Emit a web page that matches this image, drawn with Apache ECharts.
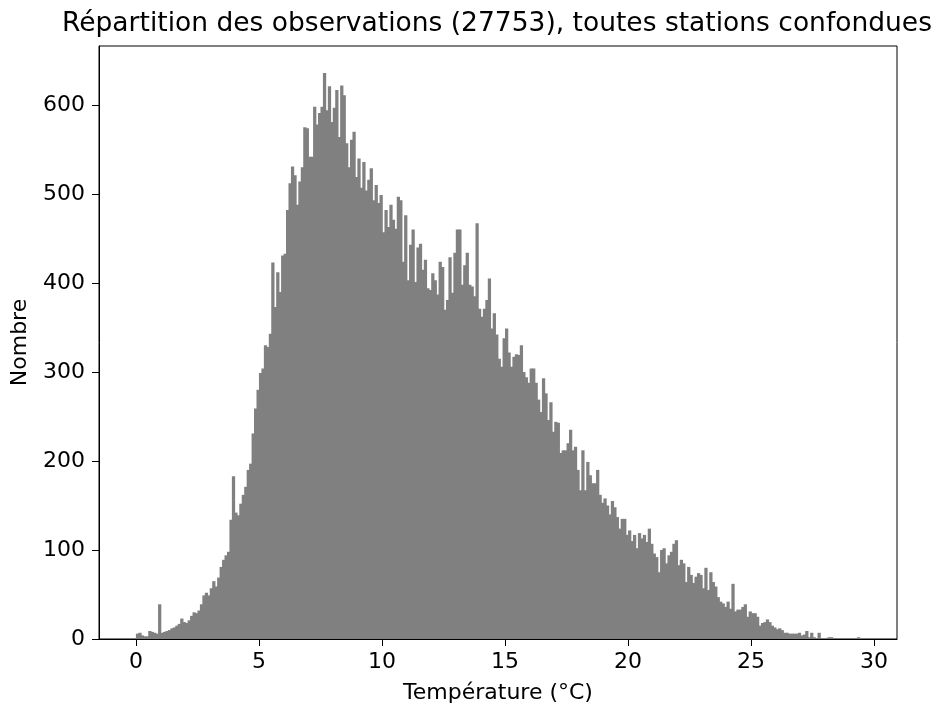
<!DOCTYPE html>
<html>
<head>
<meta charset="utf-8">
<script src="https://cdn.jsdelivr.net/npm/echarts@6/dist/echarts.min.js"></script>
<style>
html,body{margin:0;padding:0;background:#fff;}
#chart{width:936px;height:711px;}
</style>
</head>
<body>
<div id="chart"></div>
<script>
// ---- Data ----
const titleText = "Répartition des observations (27753), toutes stations confondues";
const xAxisName = "Température (°C)";
const yAxisName = "Nombre";
const binStart = 0.0;
const binWidth = 0.1;
const counts = [
  6,7,4,3,3,9,8,7,6,39,
  7,8,9,10,12,13,15,17,23,19,
  18,21,26,30,29,32,39,49,52,49,
  57,65,59,69,81,89,94,98,134,183,
  142,139,152,162,171,190,197,231,259,280,
  299,304,330,328,343,423,373,412,390,431,
  433,482,512,531,521,488,514,530,575,574,
  542,542,598,578,591,598,636,594,621,581,
  597,617,564,622,611,557,530,561,570,519,
  540,507,536,504,516,529,493,510,490,499,
  457,482,463,488,471,461,497,493,424,476,
  403,443,460,401,440,444,415,426,394,392,
  411,403,387,424,418,370,381,429,389,434,
  460,460,398,420,434,398,396,385,467,371,
  362,371,381,405,349,366,342,315,306,338,
  349,322,306,317,320,319,330,300,294,288,
  304,304,288,269,255,293,276,246,266,233,
  244,243,209,212,212,220,235,212,216,190,
  167,212,167,199,184,175,175,190,162,153,
  158,150,140,155,148,137,124,135,135,117,
  122,110,117,102,119,113,117,109,124,107,
  96,92,75,100,102,85,94,98,107,111,
  83,89,85,64,81,72,63,70,74,72,
  57,80,55,75,64,59,47,42,40,36,
  42,34,62,31,33,33,36,39,25,31,
  29,29,25,15,18,19,22,19,15,13,
  11,12,10,7,7,6,6,6,6,7,
  4,5,9,2,7,2,1,7,1,1,
  1,2,2,1,0,1,0,0,1,0,
  0,0,0,2,0
];
const xTicks = [0, 5, 10, 15, 20, 25, 30];
const yTicks = [0, 100, 200, 300, 400, 500, 600];

// ---- Build histogram rows [start, end, count] ----
const histData = counts.map((c, i) => [binStart + i * binWidth, binStart + (i + 1) * binWidth, c]);

const FONT = "DejaVu Sans";
const chart = echarts.init(document.getElementById('chart'), null, {renderer: 'canvas'});
chart.setOption({
  animation: false,
  backgroundColor: '#ffffff',
  title: {
    text: titleText,
    left: 492,
    textAlign: 'center',
    top: 6,
    textStyle: {fontFamily: FONT, fontSize: 26.5, fontWeight: 'normal', color: '#000'}
  },
  grid: {
    left: 99, right: 39, top: 46, bottom: 72,
    show: true, borderColor: '#000', borderWidth: 1, backgroundColor: 'transparent'
  },
  xAxis: {
    type: 'value',
    min: -1.5, max: 30.93,
    name: xAxisName,
    nameLocation: 'middle',
    nameGap: 43,
    nameTextStyle: {fontFamily: FONT, fontSize: 22, color: '#000'},
    axisLine: {show: true, onZero: false, lineStyle: {color: '#000', width: 1}},
    axisTick: {show: true, length: 7, lineStyle: {color: '#000'}, customValues: xTicks},
    axisLabel: {fontFamily: FONT, fontSize: 22, color: '#000', margin: 12, customValues: xTicks},
    splitLine: {show: false}
  },
  yAxis: {
    type: 'value',
    min: 0, max: 666.3,
    name: yAxisName,
    nameLocation: 'middle',
    nameGap: 68,
    nameRotate: 90,
    nameTextStyle: {fontFamily: FONT, fontSize: 22, color: '#000'},
    axisLine: {show: true, onZero: false, lineStyle: {color: '#000', width: 1}},
    axisTick: {show: true, length: 7, lineStyle: {color: '#000'}, customValues: yTicks},
    axisLabel: {fontFamily: FONT, fontSize: 22, color: '#000', margin: 14, customValues: yTicks},
    splitLine: {show: false}
  },
  series: [{
    type: 'custom',
    data: histData,
    encode: {x: [0, 1], y: 2},
    renderItem: function (params, api) {
      const p0 = api.coord([api.value(0), api.value(2)]);
      const p1 = api.coord([api.value(1), 0]);
      return {
        type: 'rect',
        shape: {x: p0[0], y: p0[1], width: p1[0] - p0[0] + 0.8, height: p1[1] - p0[1]},
        style: {fill: '#808080', stroke: null}
      };
    }
  }]
});
</script>
</body>
</html>
